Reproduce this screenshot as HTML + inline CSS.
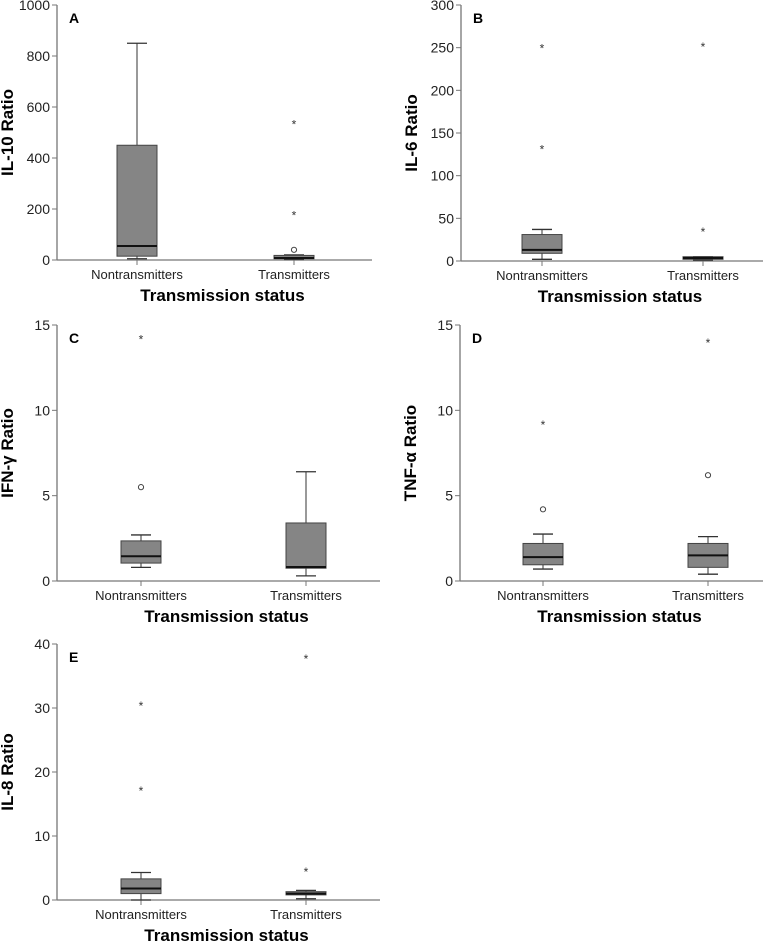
<!DOCTYPE html>
<html><head><meta charset="utf-8"><style>
body{margin:0;background:#fff}
svg{display:block;font-family:"Liberation Sans",sans-serif}
</style></head><body>
<svg id="fig" width="763" height="941" viewBox="0 0 763 941"></svg>
<script>
const categories = ["Nontransmitters","Transmitters"];
const panelLetters = ["A","B","C","D","E"];
const yTitles = ["IL-10 Ratio","IL-6 Ratio","IFN-γ Ratio","TNF-α Ratio","IL-8 Ratio"];
const yMaxes = [1000,300,15,15,40];
const yTicksA = [0,200,400,600,800,1000];
const yTicksB = [0,50,100,150,200,250,300];
const yTicksC = [0,5,10,15];
const yTicksD = [0,5,10,15];
const yTicksE = [0,10,20,30,40];
// [low, q1, median, q3, high]
const boxA = [[5,15,55,450,850],[2,5,8,18,20]];
const boxB = [[2,9,13,31,37],[1,2,3.5,5,5]];
const boxC = [[0.8,1.05,1.45,2.35,2.7],[0.3,0.75,0.82,3.4,6.4]];
const boxD = [[0.7,0.95,1.4,2.2,2.75],[0.4,0.8,1.5,2.2,2.6]];
const boxE = [[0,1.0,1.8,3.3,4.3],[0.2,0.8,1.0,1.3,1.5]];
const circlesA = [[],[40]];
const circlesB = [[],[]];
const circlesC = [[5.5],[]];
const circlesD = [[4.2],[6.2]];
const circlesE = [[],[]];
const starsA = [[],[178,535]];
const starsB = [[132,250],[35,252]];
const starsC = [[14.2],[]];
const starsD = [[9.2],[14]];
const starsE = [[17.2,30.5],[4.5,37.8]];

const ticks=[yTicksA,yTicksB,yTicksC,yTicksD,yTicksE];
const boxes=[boxA,boxB,boxC,boxD,boxE];
const circles=[circlesA,circlesB,circlesC,circlesD,circlesE];
const stars=[starsA,starsB,starsC,starsD,starsE];
// layout: axisX, top, bottom, right, center1, center2
const layout=[[57,5,260,372,137,294],[461,5,261,763,542,703],[57,325,581,380,141,306],[460,325,581,763,543,708],[57,644,900,380,141,306]];
const svg=document.getElementById('fig');
const NS="http://www.w3.org/2000/svg";
function mk(tag,at,parent){const e=document.createElementNS(NS,tag);for(const k in at)e.setAttribute(k,at[k]);(parent||svg).appendChild(e);return e;}
layout.forEach((L,p)=>{
  const [ax,top,bot,right,c1,c2]=L;
  const g=mk('g',{});
  
  
  const y=v=>bot-(v/yMaxes[p])*(bot-top);
  const xs=[c1,c2];
  const yAxis=mk('line',{x1:ax,y1:top,x2:ax,y2:bot,stroke:'#777','stroke-width':1.3},g);
  
  
  const xAxis=mk('line',{x1:ax,y1:bot,x2:right,y2:bot,stroke:'#777','stroke-width':1.3},g);
  
  
  ticks[p].forEach(t=>{
    mk('line',{x1:ax-5,y1:y(t),x2:ax,y2:y(t),stroke:'#777'},g);
    const tl=mk('text',{x:ax-7,y:y(t)+5,'text-anchor':'end','font-size':14,fill:'#222'},g);
    tl.textContent=t;
    
    
  });
  const lt=mk('text',{x:ax+12,y:top+18,'font-size':14,'font-weight':'bold'},g);
  lt.textContent=panelLetters[p];
  
  
  const yt=mk('text',{x:0,y:0,'font-size':17,'font-weight':'bold','text-anchor':'middle',transform:`translate(${ax-44},${(top+bot)/2}) rotate(-90)`},g);
  yt.textContent=yTitles[p];
  
  
  const xt=mk('text',{x:(ax+right)/2+8,y:bot+41,'font-size':17,'font-weight':'bold','text-anchor':'middle'},g);
  xt.textContent='Transmission status';
  
  
  categories.forEach((c,i)=>{
    const x=xs[i];
    mk('line',{x1:x,y1:bot,x2:x,y2:bot+5,stroke:'#777'},g);
    const cl=mk('text',{x:x,y:bot+19,'text-anchor':'middle','font-size':13,fill:'#222'},g);
    cl.textContent=c;
    
    
    const b=boxes[p][i]; const hw=20;
    const bg=mk('g',{},g);
    
    
    mk('line',{x1:x,y1:y(b[0]),x2:x,y2:y(b[1]),stroke:'#333'},bg);
    mk('line',{x1:x,y1:y(b[3]),x2:x,y2:y(b[4]),stroke:'#333'},bg);
    mk('line',{x1:x-10,y1:y(b[0]),x2:x+10,y2:y(b[0]),stroke:'#333','stroke-width':1.3},bg);
    mk('line',{x1:x-10,y1:y(b[4]),x2:x+10,y2:y(b[4]),stroke:'#333','stroke-width':1.3},bg);
    mk('rect',{x:x-hw,y:y(b[3]),width:hw*2,height:Math.max(1,y(b[1])-y(b[3])),fill:'#858585',stroke:'#444','stroke-width':1},bg);
    mk('line',{x1:x-hw,y1:y(b[2]),x2:x+hw,y2:y(b[2]),stroke:'#111','stroke-width':2},bg);
    circles[p][i].forEach(v=>{
      const o=mk('circle',{cx:x,cy:y(v),r:2.6,fill:'#fff',stroke:'#444'},g);
      
      
    });
    stars[p][i].forEach(v=>{
      const s=mk('text',{x:x,y:y(v)+5,'text-anchor':'middle','font-size':12,fill:'#333'},g);
      s.textContent='*';
      
      
    });
  });
});
</script>
</body></html>
